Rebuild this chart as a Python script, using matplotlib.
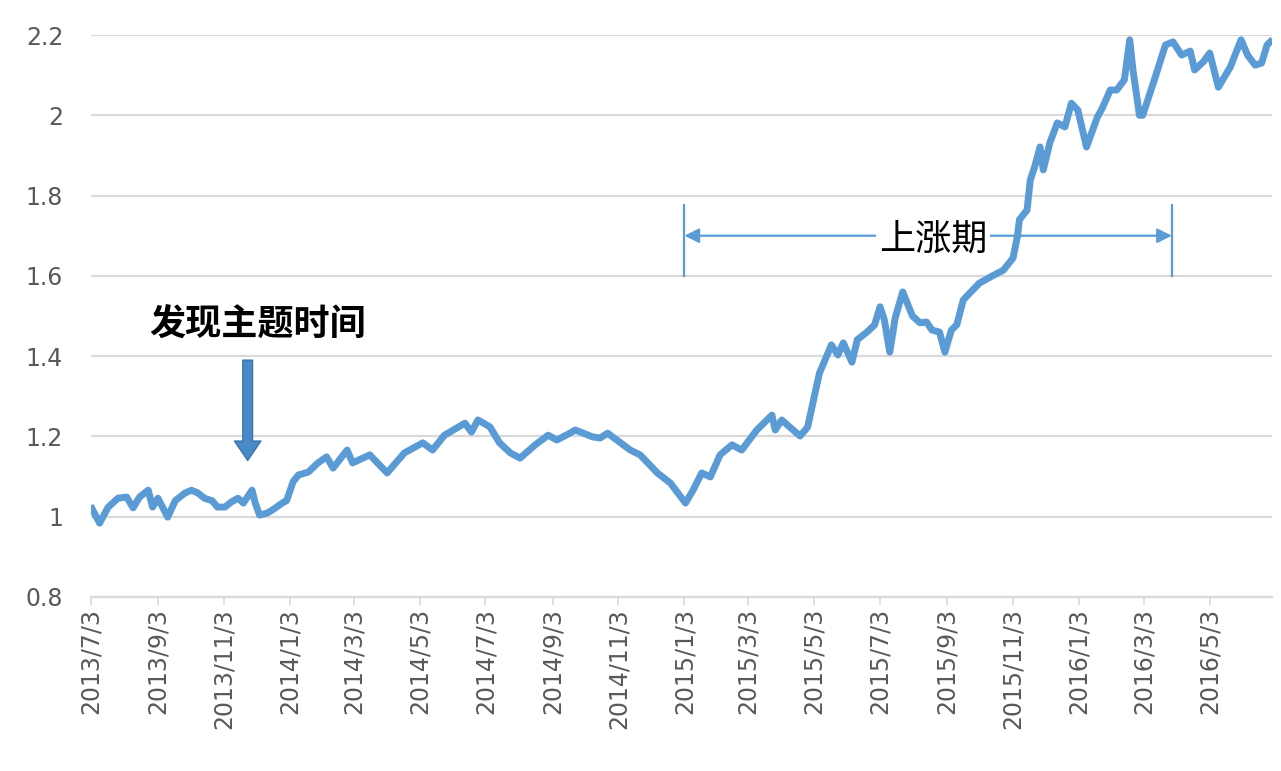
import matplotlib
matplotlib.use('agg')
import matplotlib.pyplot as plt
import pandas as pd

plt.rcParams['font.family'] = ['DejaVu Sans', 'Noto Sans CJK SC']

# values
dates = [
    '2013-07-04', '2013-07-11', '2013-07-19', '2013-07-28', '2013-08-05', '2013-08-11',
    '2013-08-17', '2013-08-25', '2013-08-29', '2013-09-03', '2013-09-12', '2013-09-19',
    '2013-09-28', '2013-10-04', '2013-10-10', '2013-10-16', '2013-10-23', '2013-10-28',
    '2013-11-04', '2013-11-10', '2013-11-16', '2013-11-21', '2013-11-29', '2013-12-02',
    '2013-12-06', '2013-12-13', '2013-12-18', '2013-12-27', '2013-12-31', '2014-01-06',
    '2014-01-11', '2014-01-20', '2014-01-29', '2014-02-06', '2014-02-12', '2014-02-25',
    '2014-03-02', '2014-03-18', '2014-04-03', '2014-04-19', '2014-05-06', '2014-05-15',
    '2014-05-26', '2014-06-14', '2014-06-20', '2014-06-26', '2014-07-07', '2014-07-16',
    '2014-07-26', '2014-08-04', '2014-08-18', '2014-08-30', '2014-09-07', '2014-09-19',
    '2014-09-24', '2014-10-10', '2014-10-17', '2014-10-24', '2014-11-04', '2014-11-14',
    '2014-11-23', '2014-12-09', '2014-12-21', '2015-01-04', '2015-01-11', '2015-01-19',
    '2015-01-27', '2015-02-05', '2015-02-16', '2015-02-25', '2015-03-11', '2015-03-25',
    '2015-03-28', '2015-04-03', '2015-04-20', '2015-04-27', '2015-05-04', '2015-05-08',
    '2015-05-19', '2015-05-25', '2015-05-30', '2015-06-07', '2015-06-12', '2015-06-21',
    '2015-06-28', '2015-07-03', '2015-07-07', '2015-07-12', '2015-07-17', '2015-07-24',
    '2015-08-02', '2015-08-09', '2015-08-15', '2015-08-20', '2015-08-27', '2015-09-01',
    '2015-09-07', '2015-09-12', '2015-09-18', '2015-09-24', '2015-10-03', '2015-10-15',
    '2015-10-25', '2015-11-03', '2015-11-07', '2015-11-09', '2015-11-16', '2015-11-19',
    '2015-11-23', '2015-11-28', '2015-12-01', '2015-12-07', '2015-12-14', '2015-12-21',
    '2015-12-27', '2016-01-02', '2016-01-10', '2016-01-20', '2016-01-25', '2016-02-01',
    '2016-02-07', '2016-02-14', '2016-02-19', '2016-02-22', '2016-02-28', '2016-03-02',
    '2016-03-13', '2016-03-23', '2016-03-30', '2016-04-07', '2016-04-15', '2016-04-19',
    '2016-04-27', '2016-05-03', '2016-05-11', '2016-05-22', '2016-06-01', '2016-06-07',
    '2016-06-14', '2016-06-20', '2016-06-25', '2016-06-28',
]
nav = [
    1.020, 0.984, 1.024, 1.046, 1.049, 1.022,
    1.049, 1.066, 1.024, 1.046, 0.999, 1.040,
    1.059, 1.066, 1.059, 1.046, 1.040, 1.024,
    1.024, 1.037, 1.046, 1.034, 1.066, 1.034,
    1.004, 1.009, 1.017, 1.034, 1.040, 1.087,
    1.104, 1.111, 1.134, 1.149, 1.121, 1.166,
    1.134, 1.154, 1.109, 1.159, 1.184, 1.166,
    1.203, 1.233, 1.211, 1.241, 1.224, 1.184,
    1.159, 1.146, 1.179, 1.203, 1.191, 1.208,
    1.216, 1.199, 1.196, 1.208, 1.186, 1.166,
    1.154, 1.109, 1.084, 1.034, 1.066, 1.109,
    1.099, 1.154, 1.179, 1.166, 1.216, 1.253,
    1.216, 1.241, 1.201, 1.223, 1.310, 1.358,
    1.428, 1.403, 1.433, 1.385, 1.441, 1.460,
    1.478, 1.523, 1.490, 1.410, 1.495, 1.560,
    1.500, 1.483, 1.485, 1.465, 1.460, 1.410,
    1.465, 1.478, 1.540, 1.557, 1.582, 1.600,
    1.614, 1.644, 1.697, 1.740, 1.764, 1.839,
    1.871, 1.921, 1.864, 1.931, 1.981, 1.971,
    2.030, 2.013, 1.921, 1.995, 2.020, 2.063,
    2.063, 2.088, 2.188, 2.113, 2.000, 2.000,
    2.090, 2.175, 2.183, 2.150, 2.160, 2.113,
    2.133, 2.155, 2.070, 2.120, 2.188, 2.150,
    2.125, 2.130, 2.175, 2.183,
]
tick_dates = ['2013-07-03', '2013-09-03', '2013-11-03', '2014-01-03', '2014-03-03',
              '2014-05-03', '2014-07-03', '2014-09-03', '2014-11-03', '2015-01-03',
              '2015-03-03', '2015-05-03', '2015-07-03', '2015-09-03', '2015-11-03',
              '2016-01-03', '2016-03-03', '2016-05-03']
tick_labels = ['2013/7/3', '2013/9/3', '2013/11/3', '2014/1/3', '2014/3/3',
               '2014/5/3', '2014/7/3', '2014/9/3', '2014/11/3', '2015/1/3',
               '2015/3/3', '2015/5/3', '2015/7/3', '2015/9/3', '2015/11/3',
               '2016/1/3', '2016/3/3', '2016/5/3']
yticks = [0.8, 1.0, 1.2, 1.4, 1.6, 1.8, 2.0, 2.2]
ylabels = ['0.8', '1', '1.2', '1.4', '1.6', '1.8', '2', '2.2']

found_date = '2013-11-25'   # 发现主题时间
rise_start = '2015-01-03'   # 上涨期
rise_end = '2016-03-29'

LINE_COLOR = '#5b9bd5'
TEXT_GRAY = '#595959'
GRID_GRAY = '#d9d9d9'

x = pd.to_datetime(dates)

fig = plt.figure(figsize=(12.81, 7.71), dpi=100)
ax = fig.add_axes([0.071, 0.2257, 0.9223, 0.7289])

ax.plot(x, nav, color=LINE_COLOR, lw=5, solid_joinstyle='round', zorder=3)

ax.set_xlim(pd.Timestamp('2013-07-03'), pd.Timestamp('2016-06-30'))
ax.set_ylim(0.8, 2.2)
ax.set_yticks(yticks)
ax.set_yticklabels(ylabels)
ax.set_xticks(pd.to_datetime(tick_dates))
ax.set_xticklabels(tick_labels, rotation=90)

ax.grid(axis='y', color=GRID_GRAY, lw=1.6)
ax.set_axisbelow(True)
for s in ['top', 'right', 'left']:
    ax.spines[s].set_visible(False)
ax.spines['bottom'].set_color(GRID_GRAY)
ax.spines['bottom'].set_linewidth(1.6)
ax.tick_params(axis='y', length=0, pad=20, labelsize=17, labelcolor=TEXT_GRAY)
ax.tick_params(axis='x', length=6, width=1.2, color=GRID_GRAY, pad=2,
               labelsize=17, labelcolor=TEXT_GRAY)

# "found theme" note with a thick down arrow
fd = pd.Timestamp(found_date)
ax.text(pd.Timestamp('2013-08-26'), 1.477, '发现主题时间', fontsize=26, fontweight='bold',
        family=['Noto Sans CJK SC', 'DejaVu Sans'], color='black', va='center', ha='left')
ax.annotate('', xy=(fd, 1.14), xytext=(fd, 1.39),
            arrowprops=dict(width=7, headwidth=19, headlength=14,
                            facecolor='#4a89c8', edgecolor='#3b74ae', lw=1))

# rising period double arrow
rs = pd.Timestamp(rise_start)
re_ = pd.Timestamp(rise_end)
ax.plot([rs, rs], [1.6, 1.776], color=LINE_COLOR, lw=1.6)
ax.plot([re_, re_], [1.6, 1.776], color=LINE_COLOR, lw=1.6)
ax.annotate('', xy=(re_, 1.7), xytext=(rs, 1.7),
            arrowprops=dict(arrowstyle='<|-|>', color=LINE_COLOR, lw=1.6,
                            mutation_scale=22, shrinkA=0, shrinkB=0))
ax.text(pd.Timestamp('2015-08-21'), 1.69, '上涨期', fontsize=26, fontweight='medium',
        family=['Noto Sans CJK SC', 'DejaVu Sans'], color='black', ha='center', va='center',
        bbox=dict(facecolor='white', edgecolor='none', pad=2), zorder=5)

fig.savefig('out.png', dpi=100)
